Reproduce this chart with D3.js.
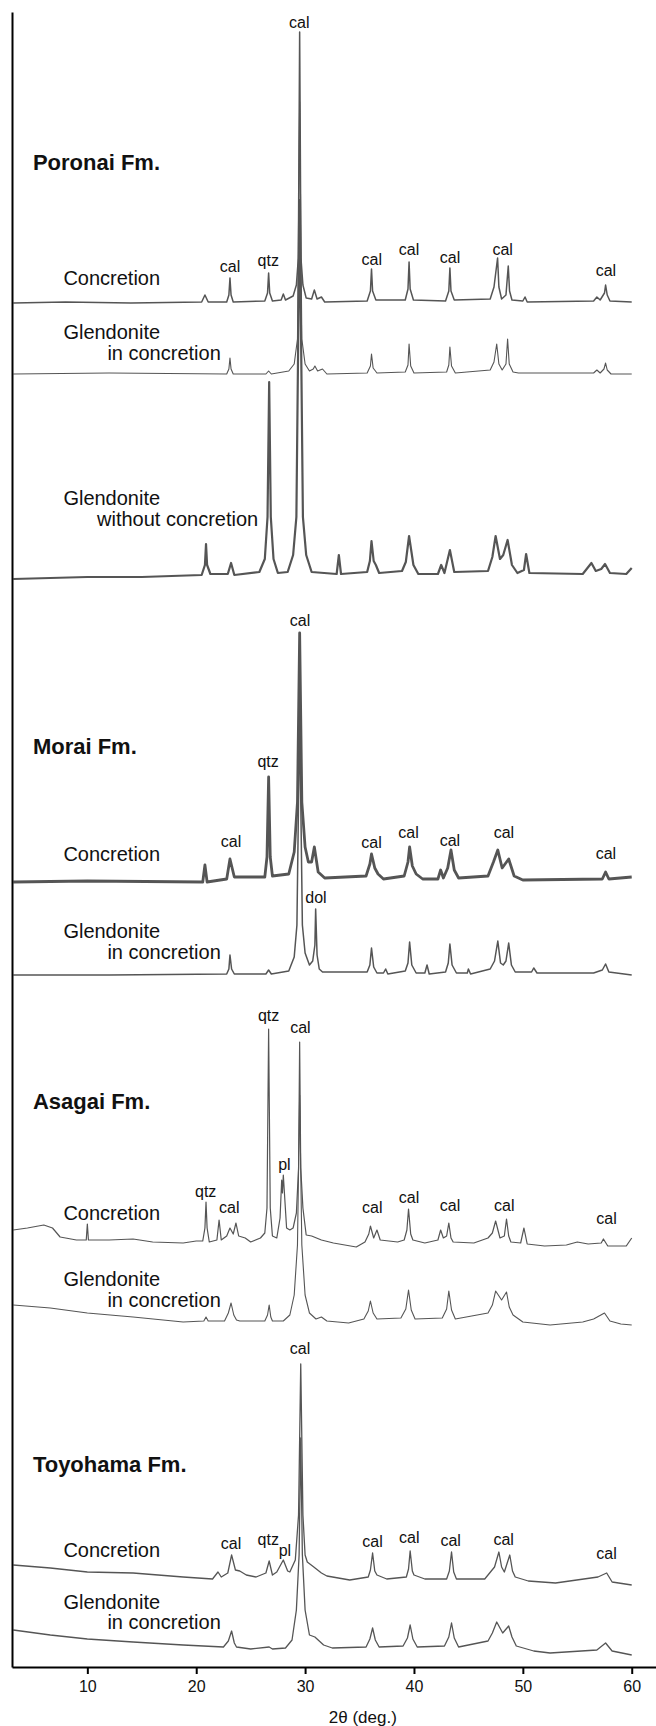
<!DOCTYPE html>
<html>
<head>
<meta charset="utf-8">
<script src="https://cdn.jsdelivr.net/npm/d3@7/dist/d3.min.js"></script>
<style>
  body { margin: 0; background: #fff; }
  svg text { font-family: "Liberation Sans", Arial, sans-serif; fill: #111; }
</style>
</head>
<body>
<svg id="chart"></svg>
<script>
// 2theta ticks
const tickValues = [10, 20, 30, 40, 50, 60];

// stacking offset of every pattern (intensity units, bottom trace = 0-ish)
const offsets = [1364, 1293, 1090, 785, 692, 419, 342, 82, 12];

// [2theta, intensity above the pattern's offset]
const poronaiConcretion = [[3.2,0],[8,1],[14,0],[20.5,1],[20.8,8],[21.1,1],[22.8,1],[23.0,8],[23.1,25],[23.2,8],[23.4,1],[26.3,2],[26.55,10],[26.65,30],[26.75,10],[27.0,2],[27.8,3],[28.0,9],[28.2,3],[28.9,7],[29.2,18],[29.38,45],[29.5,271],[29.62,45],[29.8,18],[30.1,5],[30.6,4],[30.85,13],[31.1,4],[31.5,6],[31.8,1],[35.7,2],[36.0,12],[36.1,34],[36.2,12],[36.5,3],[39.2,3],[39.45,14],[39.55,41],[39.65,14],[39.95,3],[42.9,2],[43.2,12],[43.3,35],[43.4,12],[43.7,3],[47.0,4],[47.35,16],[47.68,45],[47.8,16],[48.05,4],[48.45,8],[48.66,37],[48.78,12],[49.0,3],[50.0,2],[50.2,6],[50.4,1],[56.5,2],[56.8,6],[57.1,3],[57.5,10],[57.6,18],[57.75,8],[58.0,2],[60,1]];
const poronaiGlendoniteIn = [[3.2,0],[12,1],[22.8,0],[23.0,5],[23.1,16],[23.2,5],[23.4,0],[26.4,0],[26.65,3],[26.9,0],[28.5,3],[29.0,10],[29.3,35],[29.5,272],[29.7,35],[30.0,10],[30.4,3],[30.75,5],[30.9,8],[31.15,3],[31.6,5],[32,0],[35.7,1],[36.0,8],[36.1,20],[36.25,6],[36.6,1],[39.2,2],[39.45,9],[39.55,30],[39.7,8],[40.0,1],[43.0,2],[43.2,9],[43.3,27],[43.45,8],[43.8,1],[47.0,4],[47.35,12],[47.6,30],[47.8,10],[48.1,4],[48.45,10],[48.6,35],[48.75,10],[49.1,2],[49.6,1],[56.5,1],[56.8,4],[57.1,1],[57.45,5],[57.6,11],[57.75,4],[58.1,0],[60,0]];
const poronaiGlendoniteOut = [[3.2,-2],[10,0],[15,0],[20.5,2],[20.8,12],[20.9,33],[21.0,12],[21.3,3],[22.9,3],[23.2,14],[23.5,2],[25.8,5],[26.3,18],[26.55,60],[26.7,195],[26.85,60],[27.1,18],[27.5,4],[28.4,5],[28.9,22],[29.2,60],[29.5,377],[29.8,60],[30.1,22],[30.6,5],[32.9,3],[33.1,22],[33.3,3],[35.7,5],[35.95,16],[36.1,36],[36.3,16],[36.5,12],[36.8,4],[38.9,6],[39.25,15],[39.55,41],[39.95,12],[40.4,3],[42.2,3],[42.5,12],[42.8,4],[43.3,27],[43.7,5],[46.8,6],[47.2,20],[47.5,41],[47.9,18],[48.2,22],[48.6,37],[49.0,12],[49.5,4],[50.1,7],[50.3,23],[50.6,4],[55.5,3],[56.3,14],[56.7,6],[57.2,8],[57.55,13],[58,4],[59.5,3],[60,9]];
const moraiConcretion = [[3.2,0],[10,1],[20.6,0],[20.8,17],[21.0,0],[22.8,3],[23.1,23],[23.5,5],[26.3,5],[26.5,25],[26.65,105],[26.8,25],[27.0,6],[28.5,8],[29.0,30],[29.3,80],[29.5,249],[29.7,80],[30.0,35],[30.3,20],[30.6,20],[30.85,35],[31.2,10],[31.8,4],[35.6,6],[35.95,18],[36.1,28],[36.4,14],[36.7,8],[37.2,3],[39.1,6],[39.45,20],[39.6,35],[39.85,16],[40.2,8],[40.8,3],[42.2,3],[42.45,12],[42.7,4],[43.1,14],[43.4,32],[43.7,12],[44.1,4],[46.8,6],[47.3,20],[47.7,32],[48.1,14],[48.7,23],[49.2,6],[50,2],[57.3,3],[57.6,10],[57.9,3],[60,5]];
const moraiGlendoniteIn = [[3.2,0],[12,0],[22.8,1],[23.0,6],[23.1,20],[23.25,6],[23.5,1],[26.4,1],[26.65,5],[26.9,1],[28.5,4],[29.0,18],[29.25,50],[29.5,260],[29.75,50],[30.0,22],[30.4,10],[30.7,14],[30.9,30],[30.97,66],[31.1,20],[31.3,6],[31.6,3],[35.7,3],[35.95,10],[36.1,27],[36.3,8],[36.6,2],[37.2,2],[37.4,6],[37.6,1],[39.2,4],[39.45,12],[39.6,33],[39.8,10],[40.2,2],[41.0,2],[41.2,10],[41.4,1],[42.9,3],[43.15,12],[43.3,31],[43.5,10],[43.9,2],[44.9,2],[45.0,6],[45.2,1],[47.0,6],[47.4,14],[47.7,34],[47.95,12],[48.2,10],[48.45,14],[48.7,32],[48.95,10],[49.3,3],[50.8,3],[51.0,7],[51.3,2],[56.5,2],[57.3,5],[57.6,11],[57.9,3],[60,0]];
const asagaiConcretion = [[3.2,18],[4.5,20],[6.0,23],[6.8,20],[7.5,11],[9.0,8],[9.9,8],[10.0,24],[10.1,8],[12,8],[14.2,9],[16,6],[18.8,5],[20.0,7],[20.6,7],[20.8,20],[20.9,46],[21.0,20],[21.2,6],[21.9,8],[22.1,28],[22.3,8],[22.8,12],[23.1,20],[23.4,14],[23.65,25],[23.9,12],[24.5,10],[25.0,6],[25.9,10],[26.3,15],[26.5,40],[26.65,219],[26.8,40],[27.0,12],[27.4,10],[27.7,30],[27.85,68],[27.92,55],[28.0,73],[28.3,20],[28.6,18],[28.9,20],[29.2,35],[29.4,80],[29.5,206],[29.6,80],[29.8,40],[30.1,13],[30.6,12],[31.5,8],[32.6,5],[34.7,1],[35.5,6],[35.85,14],[36.0,22],[36.3,10],[36.6,18],[36.9,8],[38.5,6],[39.1,8],[39.35,18],[39.5,39],[39.7,14],[39.9,8],[41,5],[42.2,8],[42.45,18],[42.7,10],[43.0,12],[43.2,25],[43.4,10],[43.6,6],[45.5,5],[46.8,10],[47.2,15],[47.5,27],[47.9,10],[48.3,12],[48.5,29],[48.7,12],[48.9,6],[49.8,5],[50.1,20],[50.4,4],[52,2],[54,3],[55,6],[56,4],[57.2,5],[57.4,9],[57.8,2],[59.5,2],[60.0,10]];
const asagaiGlendoniteIn = [[3.2,20],[6.6,17],[10,12],[14.2,8],[18.8,3],[20.7,4],[20.9,8],[21.1,4],[22.6,4],[22.95,12],[23.2,22],[23.45,10],[23.7,5],[24,4],[26.3,4],[26.55,10],[26.7,20],[26.85,8],[27.0,4],[28.0,4],[28.6,10],[29.0,30],[29.3,80],[29.5,230],[29.7,80],[30.0,30],[30.4,12],[31.0,6],[31.5,8],[32,4],[34,2],[35.4,6],[35.8,14],[36.0,24],[36.25,12],[36.6,6],[38.8,7],[39.25,16],[39.5,35],[39.75,15],[40.1,6],[42.6,7],[43.0,16],[43.2,34],[43.45,15],[43.8,6],[46.8,12],[47.2,20],[47.5,34],[48.05,25],[48.5,33],[48.75,18],[49.1,10],[50,3],[52.5,0],[55.5,3],[56.5,6],[57.5,12],[58,4],[59,1],[60,0]];
const toyohamaConcretion = [[3.2,20],[6.6,17],[10,13],[14.2,12],[18.8,8],[21.5,6],[22.0,13],[22.3,8],[22.9,12],[23.25,30],[23.6,15],[24.0,14],[24.6,10],[25.5,8],[26.4,12],[26.7,24],[27.0,10],[27.4,13],[28.0,25],[28.4,14],[28.6,13],[29.1,25],[29.4,70],[29.6,221],[29.8,70],[30.0,30],[30.2,23],[30.8,18],[31.5,12],[32,9],[34.1,5],[35.8,8],[36.0,15],[36.2,32],[36.4,14],[36.6,10],[37.5,6],[39.3,8],[39.5,16],[39.65,34],[39.85,14],[40.0,10],[41,6],[43.0,6],[43.25,14],[43.45,33],[43.65,13],[43.9,6],[46.5,6],[47.4,18],[47.8,33],[48.05,18],[48.3,13],[48.8,30],[49.05,14],[49.3,8],[50.5,4],[53,2],[56.9,8],[57.7,12],[58.2,3],[60,0]];
const toyohamaGlendoniteIn = [[3.2,25],[6.6,20],[10,16],[14.2,13],[18.8,10],[22.5,8],[22.95,14],[23.25,24],[23.5,12],[23.7,8],[25,6],[26.7,8],[27.0,6],[28.2,7],[28.8,15],[29.2,45],[29.45,100],[29.6,217],[29.75,100],[30.0,45],[30.4,20],[30.9,18],[31.7,10],[32.5,7],[35.6,8],[35.95,16],[36.2,27],[36.45,15],[36.8,8],[39.0,9],[39.4,17],[39.65,30],[39.9,16],[40.3,8],[42.8,9],[43.2,18],[43.45,32],[43.7,17],[44.1,8],[46.8,14],[47.2,22],[47.6,33],[48.15,22],[48.7,29],[49.0,18],[49.4,9],[51,4],[52.5,2],[56.8,5],[57.6,12],[58.2,4],[60,0]];

const patterns = [poronaiConcretion, poronaiGlendoniteIn, poronaiGlendoniteOut,
                  moraiConcretion, moraiGlendoniteIn,
                  asagaiConcretion, asagaiGlendoniteIn,
                  toyohamaConcretion, toyohamaGlendoniteIn];

// formation titles: [text, 2theta, level]
const formations = [["Poronai Fm.", 5.0, 1497], ["Morai Fm.", 5.0, 913],
                    ["Asagai Fm.", 5.0, 558], ["Toyohama Fm.", 5.0, 195]];

// sample names: [text, 2theta, level]
const sampleLabels = [
  ["Concretion", 7.8, 1382],
  ["Glendonite", 7.8, 1328], ["in concretion", 11.84, 1307],
  ["Glendonite", 7.8, 1162], ["without concretion", 10.89, 1141],
  ["Concretion", 7.8, 806],
  ["Glendonite", 7.8, 729], ["in concretion", 11.84, 708],
  ["Concretion", 7.8, 447],
  ["Glendonite", 7.8, 381], ["in concretion", 11.84, 360],
  ["Concretion", 7.8, 110],
  ["Glendonite", 7.8, 58], ["in concretion", 11.84, 38]
];

// mineral peak labels: [text, 2theta, level]
const peakLabels = [
  ["cal", 29.47, 1638.7], ["cal", 23.1, 1395], ["qtz", 26.62, 1401], ["cal", 36.12, 1402],
  ["cal", 39.54, 1412], ["cal", 43.31, 1404], ["cal", 48.15, 1412], ["cal", 57.63, 1391],
  ["cal", 29.53, 1041.5], ["qtz", 26.6, 900], ["cal", 23.2, 820], ["cal", 36.1, 818.7],
  ["cal", 39.5, 828.7], ["cal", 43.3, 821], ["cal", 48.26, 828.7], ["cal", 57.63, 808.5],
  ["dol", 31.0, 763.7],
  ["qtz", 26.65, 646.3], ["cal", 29.57, 633.7], ["pl", 28.1, 497], ["qtz", 20.87, 470.3],
  ["cal", 23.04, 454.3], ["cal", 36.17, 454.3], ["cal", 39.54, 463.7], ["cal", 43.31, 456],
  ["cal", 48.29, 456], ["cal", 57.69, 442.7],
  ["cal", 29.53, 313], ["cal", 23.2, 118], ["qtz", 26.62, 122], ["pl", 28.15, 111],
  ["cal", 36.2, 119.7], ["cal", 39.57, 123.7], ["cal", 43.37, 121.3], ["cal", 48.24, 122],
  ["cal", 57.69, 108]
];

const W = 656, H = 1726;
const svg = d3.select("#chart").attr("width", W).attr("height", H);

const x = d3.scaleLinear().domain([3.08, 62.23]).range([12, 656]);
const y = d3.scaleLinear().domain([0, 1655]).range([1667, 12]);

// the noisier scans read as thicker lines in the original
const strokeW = [1.5, 1.1, 2.2, 2.8, 1.5, 1.2, 1.1, 1.3, 1.3];

const line = d3.line().x(d => x(d[0])).y(d => y(d[1]));

patterns.forEach((p, i) => {
  svg.append("path")
    .datum(p.map(d => [d[0], offsets[i] + d[1]]))
    .attr("fill", "none")
    .attr("stroke", "#555")
    .attr("stroke-width", strokeW[i])
    .attr("stroke-linejoin", "round")
    .attr("d", line);
});

// axes
const xAxis = svg.append("g")
    .attr("transform", `translate(0,${y(0)})`)
    .call(d3.axisBottom(x).tickValues(tickValues).tickSize(7).tickSizeOuter(0).tickPadding(7));
xAxis.selectAll("text").attr("font-size", 16).attr("font-family", null).style("fill", "#111");

svg.append("g")
    .attr("transform", `translate(${x.range()[0]},0)`)
    .call(d3.axisLeft(y).ticks(0).tickSizeOuter(0));

svg.selectAll(".domain, .tick line").attr("stroke", "#000").attr("stroke-width", 2);

svg.append("text")
    .attr("x", x(35.3))
    .attr("y", y(0) + 55.6)
    .attr("text-anchor", "middle")
    .attr("font-size", 17)
    .text("2θ (deg.)");

// labels
svg.selectAll(".fm").data(formations).enter().append("text")
    .attr("class", "fm")
    .attr("x", d => x(d[1])).attr("y", d => y(d[2]))
    .attr("font-size", 22).attr("font-weight", "bold")
    .text(d => d[0]);

svg.selectAll(".sample").data(sampleLabels).enter().append("text")
    .attr("class", "sample")
    .attr("x", d => x(d[1])).attr("y", d => y(d[2]))
    .attr("font-size", 20)
    .text(d => d[0]);

svg.selectAll(".peak").data(peakLabels).enter().append("text")
    .attr("class", "peak")
    .attr("x", d => x(d[1])).attr("y", d => y(d[2]))
    .attr("text-anchor", "middle")
    .attr("font-size", 16)
    .text(d => d[0]);
</script>
</body>
</html>
